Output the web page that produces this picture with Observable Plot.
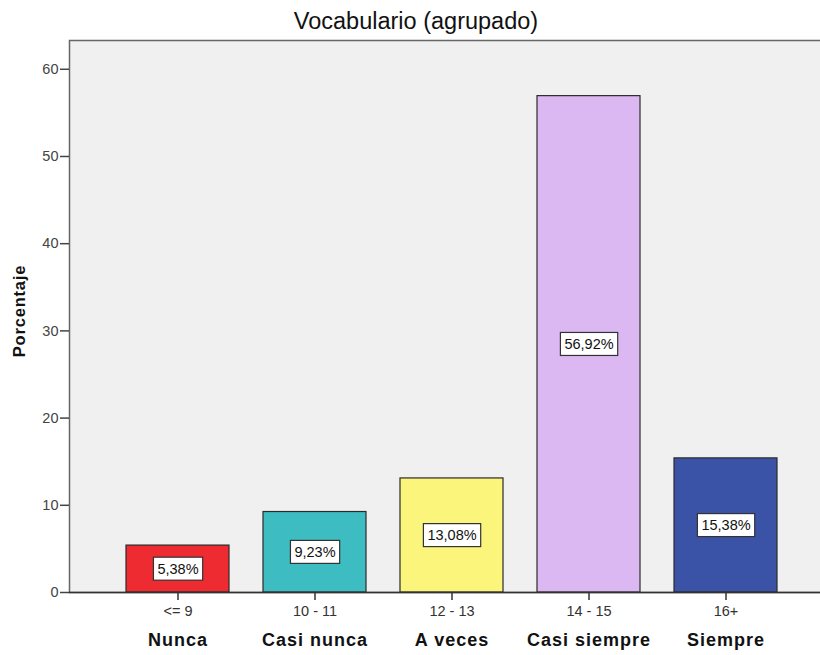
<!DOCTYPE html>
<html>
<head>
<meta charset="utf-8">
<script src="https://cdn.jsdelivr.net/npm/d3@7"></script>
<script src="https://cdn.jsdelivr.net/npm/@observablehq/plot@0.6"></script>
<style>
  html, body { margin: 0; padding: 0; background: #fff; overflow: hidden; }
  #title { width: 820px; height: 40px; line-height: 42px; text-align: center; padding-left: 12px; box-sizing: border-box;
           font-family: "Liberation Sans", Arial, sans-serif; font-size: 23.5px; color: #111; }
  #chart svg { overflow: visible; }
</style>
</head>
<body>
<div id="title">Vocabulario (agrupado)</div>
<div id="chart"></div>
<script>
const ranges = ["<= 9", "10 - 11", "12 - 13", "14 - 15", "16+"];
const names = ["Nunca", "Casi nunca", "A veces", "Casi siempre", "Siempre"];
const percents = [5.38, 9.23, 13.08, 56.92, 15.38];
const colors = ["#ee2b30", "#3dbdc1", "#fbf57c", "#dcb8f2", "#3b53a7"];
const yTicks = [0, 10, 20, 30, 40, 50, 60];

const data = ranges.map((r, i) => ({
  range: r, name: names[i], value: percents[i], color: colors[i],
  label: percents[i].toFixed(2).replace(".", ",") + "%"
}));

const plot = Plot.plot({
  width: 820,
  height: 615,
  marginTop: 0,
  marginBottom: 63,
  marginLeft: 69,
  marginRight: -13,
  style: { fontFamily: "'Liberation Sans', Arial, sans-serif", fontSize: "14px", color: "#222", background: "transparent" },
  x: { domain: ranges, paddingInner: 0.25, paddingOuter: 0.41, label: null },
  y: { domain: [0, 63.3], label: null },
  marks: [
    Plot.frame({ fill: "#f0f0f0", stroke: "#666", strokeWidth: 1.5 }),
    Plot.barY(data, { x: "range", y: "value", fill: "color", stroke: "#2a2a2a", strokeWidth: 1.2 }),
    Plot.ruleY([0], { stroke: "#333", strokeWidth: 1.5 }),
    Plot.ruleX([0], { frameAnchor: "left", stroke: "#333", strokeWidth: 1.5 }),
    Plot.axisY({ ticks: yTicks, tickSize: 9, tickPadding: 2, label: null, fontSize: 14, color: "#444", strokeWidth: 1.5, ariaDescription: "yticks" }),
    Plot.axisX({ tickSize: 8, tickPadding: 5, label: null, fontSize: 14, color: "#333", strokeWidth: 1.5, ariaDescription: "xticks" }),
    Plot.text(data, { x: "range", y: d => d.value / 2, text: "label", fontSize: 14.5, fill: "#111", ariaDescription: "pct-labels" }),
    Plot.text(data, { x: "range", text: "name", frameAnchor: "bottom", dy: 53, fontSize: 18, fontWeight: "bold", fill: "#111", ariaDescription: "cat-names" }),
    Plot.text(["Porcentaje"], { frameAnchor: "left", rotate: -90, fontSize: 16.5, fontWeight: "bold", fill: "#111", ariaDescription: "ylabel" })
  ]
});
document.getElementById("chart").appendChild(plot);

const svg = d3.select(plot);
svg.selectAll('g[aria-description="xticks"] text, g[aria-description="yticks"] text').style("font-size", "14.5px");
svg.selectAll('g[aria-description="cat-names"] text').style("letter-spacing", "1px");

// place the rotated y-axis title left of the frame, centred on the frame height
svg.selectAll('g[aria-description="ylabel"]').attr("transform", null).attr("text-anchor", "middle");
svg.selectAll('g[aria-description="ylabel"] text')
  .style("letter-spacing", "0.8px")
  .attr("text-anchor", "middle")
  .attr("x", null).attr("y", null).attr("dx", null).attr("dy", null)
  .attr("transform", "translate(25,271) rotate(-90)");

// white boxes behind percentage labels
svg.selectAll('g[aria-description="pct-labels"] text').each(function() {
  const bb = this.getBBox();
  const padX = 4, h = 23;
  const cy = bb.y + bb.height / 2;
  d3.select(this.parentNode).insert("rect", () => this)
    .attr("x", bb.x - padX).attr("y", cy - h / 2)
    .attr("width", bb.width + 2 * padX).attr("height", h)
    .attr("transform", this.getAttribute("transform"))
    .attr("fill", "#fff").attr("stroke", "#333").attr("stroke-width", 1.2);
});
</script>
</body>
</html>
